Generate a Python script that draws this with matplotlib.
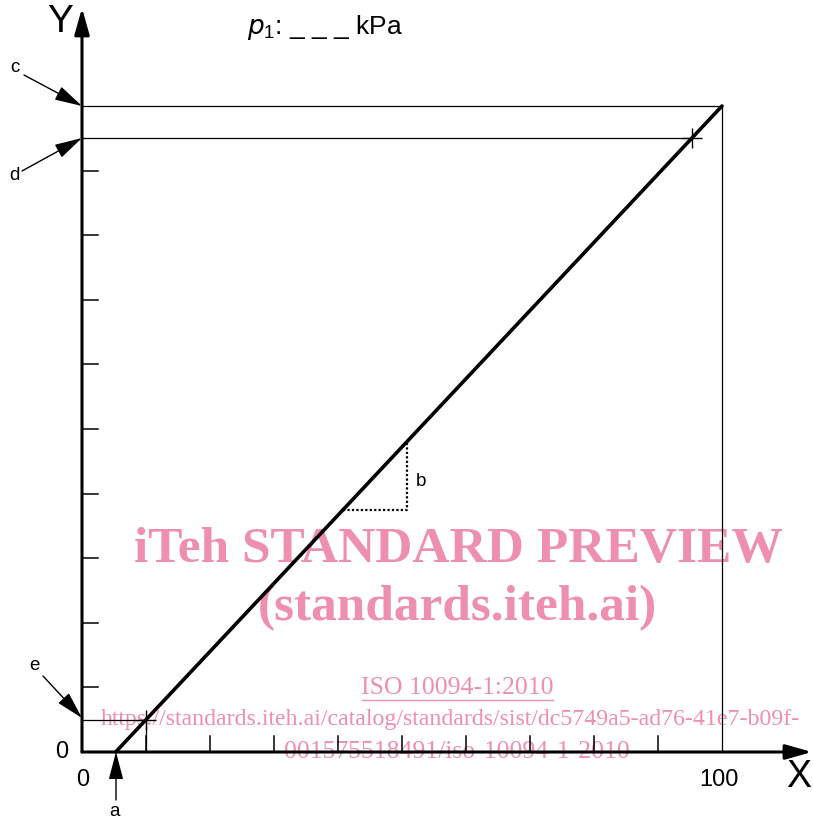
import matplotlib
matplotlib.use("Agg")
import matplotlib.pyplot as plt

# ---- data (chart units: x 0..100, y 0..100) ----
line_x = [5.26, 100.0]
line_y = [0.0, 100.0]
pt_e = (10.0, 5.0)      # lower marked point
pt_d = (95.26, 95.0)    # upper marked point
level_c = 100.0
x_ticks = [10, 20, 30, 40, 50, 60, 70, 80, 90]
y_ticks = [10, 20, 30, 40, 50, 60, 70, 80, 90]
tri_x = [40.8, 50.8, 50.8]
tri_y = [37.5, 37.5, 48.05]

W, H = 813, 819
PXX, PXY = 6.4, 6.46
X0, Y0 = 82, 752

fig = plt.figure(figsize=(W / 100, H / 100), dpi=100)
ax = fig.add_axes([0, 0, 1, 1])
ax.set_xlim(-X0 / PXX, (W - X0) / PXX)
ax.set_ylim(-(H - Y0) / PXY, Y0 / PXY)
ax.axis("off")

def px(xp, yp):
    return ((xp - X0) / PXX, (Y0 - yp) / PXY)

sans = "Liberation Sans"
serif = "Liberation Serif"
pink = "#ef8fae"

# watermark (drawn under the lines)
ax.text(*px(458, 550), "iTeh STANDARD PREVIEW", color=pink, family=serif,
        weight="bold", fontsize=37, ha="center", va="center", zorder=1)
ax.text(*px(457, 608), "(standards.iteh.ai)", color=pink, family=serif,
        weight="bold", fontsize=37, ha="center", va="center", zorder=1)
ax.text(*px(457, 688), "ISO 10094-1:2010", color=pink, family=serif,
        fontsize=18.5, ha="center", va="center", zorder=1)
ax.plot([px(362, 0)[0], px(553, 0)[0]], [px(0, 700)[1]] * 2, color=pink, lw=1, zorder=1)
ax.text(*px(101, 720), "https://standards.iteh.ai/catalog/standards/sist/dc5749a5-ad76-41e7-b09f-",
        color=pink, family=serif, fontsize=17.2, ha="left", va="center", zorder=1)
ax.text(*px(457, 752), "001575518491/iso-10094-1-2010", color=pink, family=serif,
        fontsize=18.5, ha="center", va="center", zorder=1)

# axes with arrows
xend = px(812, 0)[0]
yend = px(0, 8)[1]
ax.annotate("", xy=(xend, 0), xytext=(0, 0),
            arrowprops=dict(arrowstyle="-|>,head_length=1.6,head_width=0.45", color="black",
                            lw=2.2, shrinkA=0, shrinkB=0), zorder=5)
ax.annotate("", xy=(0, yend), xytext=(0, 0),
            arrowprops=dict(arrowstyle="-|>,head_length=1.6,head_width=0.45", color="black",
                            lw=2.2, shrinkA=0, shrinkB=0), zorder=5)

tlen = 16 / PXX
for t in x_ticks:
    ax.plot([t, t], [0, 16 / PXY], color="black", lw=1.1, zorder=4)
for t in y_ticks:
    ax.plot([0, tlen], [t, t], color="black", lw=1.1, zorder=4)

# frame lines
ax.plot([0, 100, 100], [level_c, level_c, 0], color="black", lw=0.9, zorder=4)
ax.plot([0, pt_d[0]], [pt_d[1], pt_d[1]], color="black", lw=0.9, zorder=4)
ax.plot([0, pt_e[0]], [pt_e[1], pt_e[1]], color="black", lw=0.9, zorder=4)
ax.plot([pt_e[0], pt_e[0]], [0, pt_e[1]], color="black", lw=0.9, zorder=4)
ax.plot([pt_d[0], pt_e[0]], [pt_d[1], pt_e[1]], ls="none", marker="+", ms=14,
        mew=1.0, color="black", zorder=6)

# main line
ax.plot(line_x, line_y, color="black", lw=2.6, solid_capstyle="round", zorder=6)

# dotted triangle
ax.plot(tri_x, tri_y, color="black", lw=1.6, ls=(0, (1, 1)), zorder=5)
ax.text(*px(421, 481), "b", family=sans, fontsize=13.5, ha="center", va="center")

# labels
ax.text(*px(60, 22), "Y", family=sans, fontsize=28, ha="center", va="center")
ax.text(*px(799, 777), "X", family=sans, fontsize=27, ha="center", va="center")
ax.text(*px(62, 752), "0", family=sans, fontsize=17, ha="center", va="center")
ax.text(*px(83, 780), "0", family=sans, fontsize=17, ha="center", va="center")
ax.text(*px(719, 780), "100", family=sans, fontsize=17, ha="center", va="center")
ax.text(*px(247, 27), r"$\it{p}_{\mathregular{1}}$: _ _ _ kPa", family=sans, fontsize=19,
        ha="left", va="center")

arrow_kw = dict(arrowstyle="-|>,head_length=1.7,head_width=0.45", color="black", lw=1.0,
                shrinkA=0, shrinkB=0)
ax.annotate("", xy=px(82, 106), xytext=px(24, 75), arrowprops=arrow_kw)
ax.text(*px(15, 67), "c", family=sans, fontsize=13.5, ha="center", va="center")
ax.annotate("", xy=px(82, 138), xytext=px(22, 171), arrowprops=arrow_kw)
ax.text(*px(14, 176), "d", family=sans, fontsize=13.5, ha="center", va="center")
ax.annotate("", xy=px(82, 718), xytext=px(43, 676), arrowprops=arrow_kw)
ax.text(*px(34, 665), "e", family=sans, fontsize=13.5, ha="center", va="center")
ax.annotate("", xy=px(116, 752), xytext=px(116, 800), arrowprops=arrow_kw)
ax.text(*px(115, 811), "a", family=sans, fontsize=13.5, ha="center", va="center")

fig.savefig("out.png", dpi=100)
